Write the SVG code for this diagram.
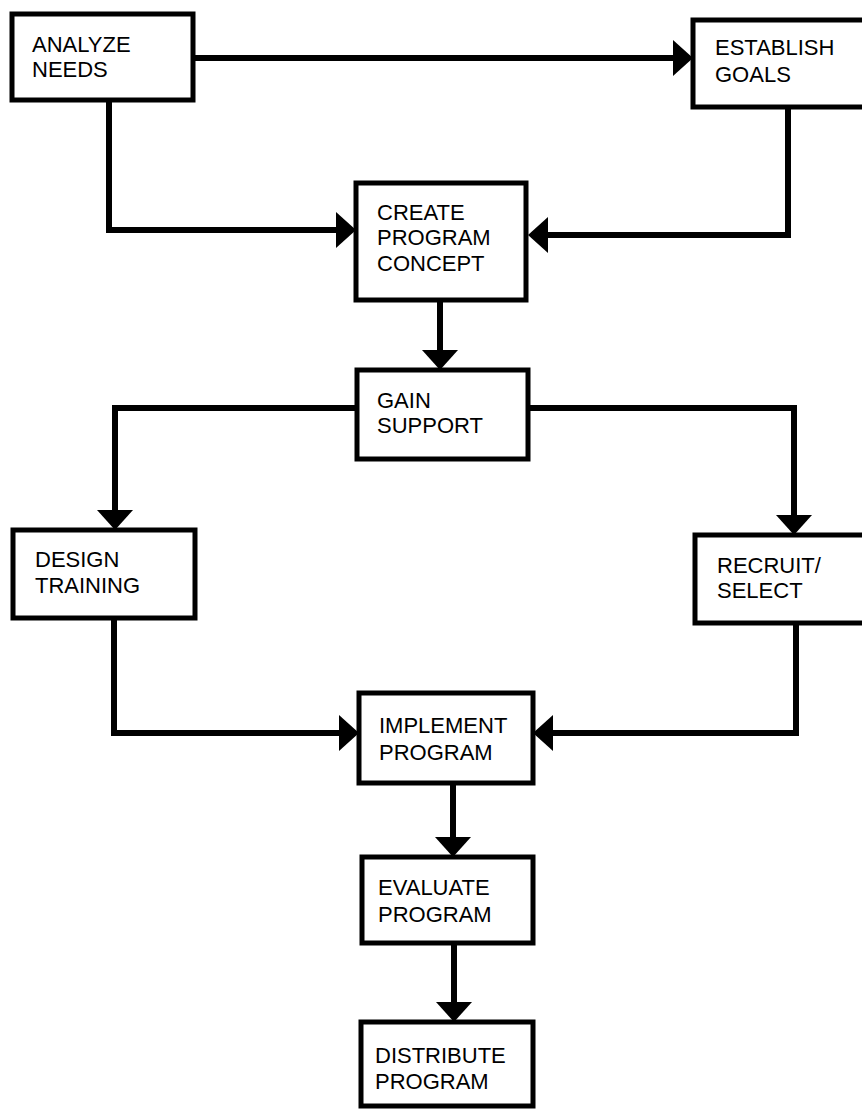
<svg xmlns="http://www.w3.org/2000/svg" width="862" height="1110" viewBox="0 0 862 1110">
  <defs>
    <style>
      .box { fill: #ffffff; stroke: #000000; stroke-width: 5; }
      .lbl { font-family: "Liberation Sans", Arial, sans-serif; font-size: 22px; fill: #000000; }
      .conn { fill: none; stroke: #000000; stroke-width: 6; stroke-linejoin: miter; marker-end: url(#arrow); }
    </style>
    <marker id="arrow" markerUnits="userSpaceOnUse" markerWidth="22" markerHeight="38" refX="0" refY="18" orient="auto" viewBox="0 0 22 38">
      <path d="M0,0 L20,18 L0,36 Z" fill="#000000"/>
    </marker>
  </defs>
  <rect width="862" height="1110" fill="#ffffff"/>

  <g id="connectors">
    <path class="conn" d="M193,58 H673"/>
    <path class="conn" d="M109,100 V230 H336"/>
    <path class="conn" d="M788,107 V235 H548"/>
    <path class="conn" d="M440,300 V350"/>
    <path class="conn" d="M357,408 H115 V510"/>
    <path class="conn" d="M528,408 H794 V515"/>
    <path class="conn" d="M114,618 V733 H339"/>
    <path class="conn" d="M796,623 V733 H553"/>
    <path class="conn" d="M453,783 V837"/>
    <path class="conn" d="M454,943 V1002"/>
  </g>

  <g id="analyze-needs">
    <rect class="box" x="12" y="14" width="181" height="86"/>
    <text class="lbl" x="32" y="52">ANALYZE</text>
    <text class="lbl" x="32" y="77">NEEDS</text>
  </g>
  <g id="establish-goals">
    <rect class="box" x="693" y="20" width="180" height="87"/>
    <text class="lbl" x="715" y="55">ESTABLISH</text>
    <text class="lbl" x="715" y="82">GOALS</text>
  </g>
  <g id="create-program-concept">
    <rect class="box" x="356" y="183" width="170" height="117"/>
    <text class="lbl" x="377" y="220">CREATE</text>
    <text class="lbl" x="377" y="245">PROGRAM</text>
    <text class="lbl" x="377" y="271">CONCEPT</text>
  </g>
  <g id="gain-support">
    <rect class="box" x="357" y="370" width="171" height="89"/>
    <text class="lbl" x="377" y="408">GAIN</text>
    <text class="lbl" x="377" y="433">SUPPORT</text>
  </g>
  <g id="design-training">
    <rect class="box" x="13" y="530" width="182" height="88"/>
    <text class="lbl" x="35" y="567">DESIGN</text>
    <text class="lbl" x="35" y="593">TRAINING</text>
  </g>
  <g id="recruit-select">
    <rect class="box" x="695" y="535" width="180" height="88"/>
    <text class="lbl" x="717" y="573">RECRUIT/</text>
    <text class="lbl" x="717" y="598">SELECT</text>
  </g>
  <g id="implement-program">
    <rect class="box" x="359" y="693" width="174" height="90"/>
    <text class="lbl" x="379" y="733">IMPLEMENT</text>
    <text class="lbl" x="379" y="760">PROGRAM</text>
  </g>
  <g id="evaluate-program">
    <rect class="box" x="362" y="857" width="171" height="86"/>
    <text class="lbl" x="378" y="895">EVALUATE</text>
    <text class="lbl" x="378" y="922">PROGRAM</text>
  </g>
  <g id="distribute-program">
    <rect class="box" x="361" y="1022" width="172" height="84"/>
    <text class="lbl" x="375" y="1063">DISTRIBUTE</text>
    <text class="lbl" x="375" y="1089">PROGRAM</text>
  </g>
</svg>
